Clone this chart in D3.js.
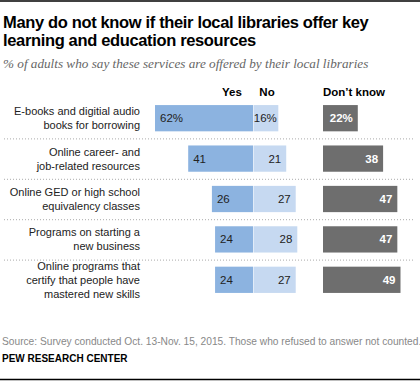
<!DOCTYPE html>
<html><head><meta charset="utf-8">
<script src="https://cdn.jsdelivr.net/npm/d3@7"></script>
<style>
body{margin:0;background:#fff;}
svg{display:block;}
</style></head>
<body>
<script>
const categories = [
  ["E-books and digitial audio","books for borrowing"],
  ["Online career- and","job-related resources"],
  ["Online GED or high school","equivalency classes"],
  ["Programs on starting a","new business"],
  ["Online programs that","certify that people have","mastered new skills"]
];
const yesValues = [62, 41, 26, 24, 24];
const noValues = [16, 21, 27, 28, 27];
const dkValues = [22, 38, 47, 47, 49];
const seriesNames = ["Yes", "No", "Don\u2019t know"];

const W = 420, H = 382;
const svg = d3.select("body").append("svg").attr("width", W).attr("height", H);
const sans = "'Liberation Sans', Arial, sans-serif";

svg.append("line").attr("x1",0).attr("x2",W).attr("y1",1).attr("y2",1).attr("stroke","#000").attr("stroke-width",1.5);
svg.append("line").attr("x1",0).attr("x2",W).attr("y1",379.5).attr("y2",379.5).attr("stroke","#000").attr("stroke-width",1.5);

const title = svg.append("text").attr("x",3).attr("font-family",sans).attr("font-weight","bold").attr("font-size",16.5).attr("letter-spacing",-0.35).attr("fill","#000");
title.append("tspan").attr("x",3).attr("y",28).text("Many do not know if their local libraries offer key");
title.append("tspan").attr("x",3).attr("y",46).text("learning and education resources");

svg.append("text").attr("x",3).attr("y",68).attr("font-family","'Liberation Serif','Times New Roman',serif").attr("font-style","italic").attr("font-size",13.2).attr("fill","#666")
  .text("% of adults who say these services are offered by their local libraries");

const y = d3.scaleBand().domain(d3.range(categories.length)).range([98, 300]).paddingInner(0.35).paddingOuter(0.175);
const xYN = d3.scaleLinear().domain([-62, 0, 28]).range([155, 253, 297.3]);
const xDK = d3.scaleLinear().domain([0, 49]).range([323, 400.5]);

svg.append("text").attr("x",232).attr("y",96).attr("text-anchor","middle").attr("font-family",sans).attr("font-weight","bold").attr("font-size",11.5).text(seriesNames[0]);
svg.append("text").attr("x",267).attr("y",96).attr("text-anchor","middle").attr("font-family",sans).attr("font-weight","bold").attr("font-size",11.5).text(seriesNames[1]);
svg.append("text").attr("x",xDK(0)).attr("y",96).attr("font-family",sans).attr("font-weight","bold").attr("font-size",11.5).text(seriesNames[2]);

for (let i = 0; i < categories.length - 1; i++) {
  const sy = (y(i) + y.bandwidth() + y(i+1)) / 2;
  svg.append("line").attr("x1",4).attr("x2",415).attr("y1",sy+0.5).attr("y2",sy+0.5)
    .attr("stroke","#aaa").attr("stroke-dasharray","1,2").attr("stroke-width",1);
}

const g = svg.append("g");
categories.forEach((lines, i) => {
  const cy = y(i) + y.bandwidth()/2;
  const n = lines.length;
  const t = g.append("text").attr("font-family",sans).attr("font-size",11).attr("fill","#222").attr("text-anchor","end");
  lines.forEach((l, k) => {
    t.append("tspan").attr("x",140).attr("y", cy + 4 + (k - (n-1)/2) * 14).text(l);
  });
  const pct = i === 0 ? "%" : "";
  g.append("rect").attr("x", xYN(-yesValues[i])).attr("y", y(i)).attr("width", xYN(0) - xYN(-yesValues[i])).attr("height", y.bandwidth()).attr("fill","#8cb3e0");
  g.append("text").attr("x", xYN(-yesValues[i]) + 5).attr("y", cy + 4).attr("font-family",sans).attr("font-size",11.5).attr("fill","#222").text(yesValues[i] + pct);
  g.append("rect").attr("x", xYN(0) + 0.5).attr("y", y(i)).attr("width", xYN(noValues[i]) - xYN(0) - 0.5).attr("height", y.bandwidth()).attr("fill","#c6d9f1");
  g.append("text").attr("x", xYN(noValues[i]) - (i===0?1.5:5)).attr("y", cy + 4).attr("text-anchor","end").attr("font-family",sans).attr("font-size",11.5).attr("fill","#222").text(noValues[i] + pct);
  g.append("rect").attr("x", xDK(0)).attr("y", y(i)).attr("width", xDK(dkValues[i]) - xDK(0)).attr("height", y.bandwidth()).attr("fill","#6e6e6e");
  g.append("text").attr("x", xDK(dkValues[i]) - 5).attr("y", cy + 4).attr("text-anchor","end").attr("font-family",sans).attr("font-weight","bold").attr("font-size",11.5).attr("fill","#fff").text(dkValues[i] + pct);
});

svg.append("text").attr("x",2).attr("y",345).attr("font-family",sans).attr("font-size",10.2).attr("fill","#888")
  .text("Source: Survey conducted Oct. 13-Nov. 15, 2015. Those who refused to answer not counted.");
svg.append("text").attr("x",2).attr("y",362).attr("font-family",sans).attr("font-weight","bold").attr("font-size",10).attr("fill","#000")
  .text("PEW RESEARCH CENTER");
</script>
</body></html>
